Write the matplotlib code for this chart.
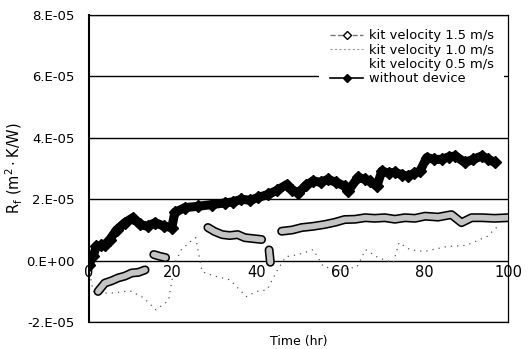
import numpy as np
import matplotlib.pyplot as plt
from matplotlib.lines import Line2D
from matplotlib.ticker import FuncFormatter

plt.rcParams['font.family'] = ['DejaVu Sans']

# values, in units of 1E-05 m2.K/W
t_none = [0, 1, 1.8, 3, 3.8, 5, 6.6, 8.6, 10.5, 12.2, 14, 15.8, 18, 19.8, 20.5,
          22.9, 26, 29.4, 32.5, 34.5, 36.4, 38.5, 40.4, 42.8, 45, 47.2, 48.5, 50,
          51.8, 53.5, 55.3, 57, 59, 61, 61.8, 64.2, 65.9, 67, 68.7, 69.9, 71.5, 73,
          74.6, 76.2, 77.6, 79, 80.6, 82.4, 84.2, 85.8, 87.4, 89.7, 91.7, 93.7,
          95.3, 96.9]
rf_none = [-0.13, 0.14, 0.47, 0.5, 0.52, 0.69, 1.0, 1.24, 1.4, 1.18, 1.12, 1.24,
           1.12, 1.08, 1.57, 1.73, 1.77, 1.83, 1.88, 1.92, 2.0, 1.97, 2.06, 2.16,
           2.3, 2.48, 2.3, 2.22, 2.45, 2.6, 2.55, 2.65, 2.55, 2.43, 2.26, 2.71,
           2.65, 2.59, 2.43, 2.92, 2.85, 2.88, 2.8, 2.75, 2.85, 2.92, 3.36, 3.3,
           3.3, 3.38, 3.41, 3.2, 3.3, 3.41, 3.3, 3.2]

t_15 = [2.2, 3.8, 5.5, 7, 8.6, 10.2, 11.8, 13.4, 14.5, 15.5, 17, 18.3, 23,
        28.4, 30, 31.8, 33.6, 35.5, 37.2, 39.2, 41.2, 42, 43, 43.3, 45,
        46, 48.5, 50.8, 53.5, 56.3, 58.7, 61, 63.5, 65.9, 68.2, 70.6, 73, 75.4,
        77.8, 80.2, 83.3, 86.5, 88.9, 91.3, 93.7, 96.8, 100]
rf_15 = [-1.0, -0.73, -0.65, -0.56, -0.5, -0.4, -0.38, -0.3, None, 0.2, 0.14, 0.1, None,
         1.08, 0.95, 0.85, 0.82, 0.85, 0.75, 0.72, 0.69, None, 0.35, -0.05, None,
         0.96, 1.0, 1.08, 1.12, 1.18, 1.25, 1.34, 1.35, 1.4, 1.38, 1.4, 1.35, 1.4,
         1.38, 1.45, 1.42, 1.5, 1.24, 1.4, 1.4, 1.38, 1.4]

t_10 = [0, 1, 3, 5.7, 9.8, 13, 16, 19, 20.5, 22, 24, 25.5, 27, 30, 33.6, 37.6, 40,
        42.5, 45, 47, 50, 53.5, 56, 60, 64, 66, 69, 72.6, 74, 76.6, 80, 85.4, 90,
        95, 97.4]
rf_10 = [-0.2, -1.0, -1.05, -1.05, -0.98, -1.2, -1.6, -1.3, -0.1, 0.35, 0.6, 0.75,
         -0.36, -0.5, -0.62, -1.17, -1.0, -0.95, -0.3, 0.13, 0.2, 0.36, -0.2, -0.3,
         -0.2, 0.36, 0.1, -0.07, 0.59, 0.36, 0.3, 0.46, 0.5, 0.79, 1.1]

t_05 = [4, 8, 12, 16, 20.5, 30, 43, 50, 58, 66, 73]
rf_05 = [0, 0, 0, 0, 0, None, 0, 0, 0, 0, 0]

labels = ['kit velocity 1.5 m/s', 'kit velocity 1.0 m/s',
          'kit velocity 0.5 m/s', 'without device']


def arr(v):
    return np.array([np.nan if x is None else x for x in v], dtype=float) * 1e-5


fig = plt.figure(figsize=(5.32, 3.49), dpi=100)
ax = fig.add_axes([0.167, 0.077, 0.788, 0.88])

ax.set_xlim(0, 100)
ax.set_ylim(-2e-5, 8e-5)
ax.set_yticks(np.arange(-2e-5, 8.1e-5, 2e-5))
ax.yaxis.set_major_formatter(FuncFormatter(lambda v, p: f"{v:.0E}".replace('E', '.E')))
ax.grid(axis='y', color='black', lw=1.0, zorder=0)
ax.set_xticks([])
ax.tick_params(axis='y', length=0, labelsize=9.5, pad=10)
for s in ax.spines.values():
    s.set_linewidth(0.9)
ax.spines['left'].set_linewidth(1.5)

# white series hides the zero line where it runs
ax.plot(t_05, arr(rf_05), color='white', lw=3, zorder=1)

ax.plot(t_10, arr(rf_10), color='#555555', lw=0.9, ls=(0, (1, 4)), zorder=2)

ax.plot(t_15, arr(rf_15), color='black', lw=6.5, solid_capstyle='round', zorder=3)
ax.plot(t_15, arr(rf_15), color='#c4c4c4', lw=4.2, solid_capstyle='round', zorder=4)

ax.plot(t_none, arr(rf_none), color='black', lw=6.5, marker='D', ms=6,
        solid_capstyle='round', zorder=5)

sec = ax.secondary_xaxis(0.2)
sec.set_xticks([0, 20, 40, 60, 80, 100])
sec.tick_params(length=0, labelsize=10.5, pad=3)
sec.spines['bottom'].set_visible(False)
sec.set_zorder(7)

ax.set_xlabel('Time (hr)', fontsize=9, labelpad=9)
ax.set_ylabel(r'R$_\mathrm{f}$ (m$^2\cdot$K/W)', fontsize=10.5)
ax.yaxis.set_label_coords(-0.152, 0.5)

handles = [
    Line2D([], [], color='#777777', lw=1, ls='--', marker='D', ms=4,
           mfc='white', mec='black'),
    Line2D([], [], color='#999999', lw=0.8, ls=(0, (2, 2))),
    Line2D([], [], color='white', lw=1),
    Line2D([], [], color='black', lw=1.2, marker='D', ms=4),
]
leg = ax.legend(handles, labels, loc='upper right', fontsize=9.4,
                frameon=True, fancybox=False, framealpha=1, edgecolor='none',
                borderaxespad=0.3, handlelength=2.6, labelspacing=0.1,
                handletextpad=0.4, borderpad=0.8)
leg.set_zorder(6)

fig.savefig('out.png', dpi=100)
